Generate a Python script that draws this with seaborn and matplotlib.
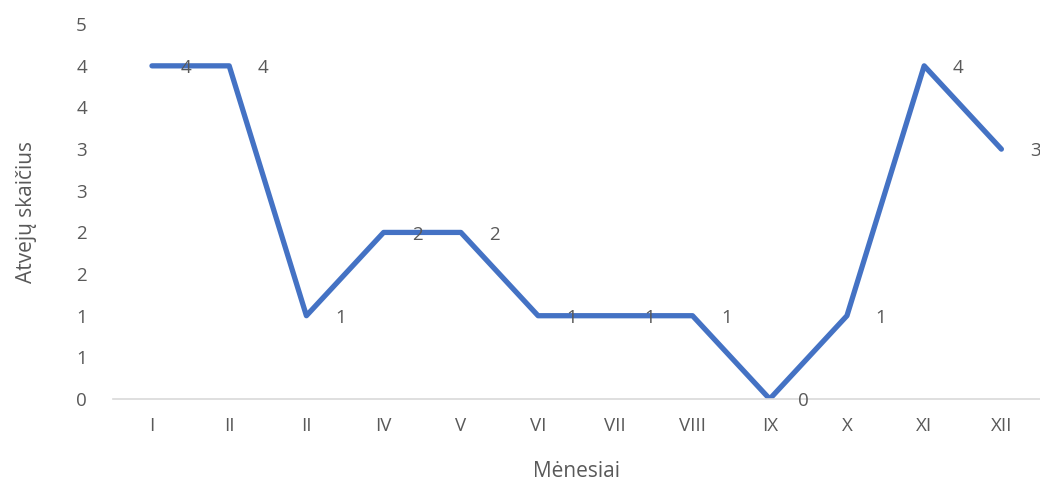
import numpy as np
import pandas as pd
import matplotlib.pyplot as plt
import seaborn as sns
from matplotlib.ticker import FuncFormatter

# duomenys
menesiai = ['I', 'II', 'II', 'IV', 'V', 'VI', 'VII', 'VIII', 'IX', 'X', 'XI', 'XII']
atvejai = [4, 4, 1, 2, 2, 1, 1, 1, 0, 1, 4, 3]

df = pd.DataFrame({'poz': np.arange(len(menesiai)), 'atvejai': atvejai})

sns.set_style("white")
plt.rcParams['font.family'] = ['Open Sans', 'DejaVu Sans']
pilka = '#595959'

fig = plt.figure(figsize=(10.4, 4.84), dpi=100)
ax = fig.add_axes([0.109, 0.1756, 0.891, 0.7744])

sns.lineplot(data=df, x='poz', y='atvejai', ax=ax, color='#4472C4', linewidth=3.8,
             solid_capstyle='round', solid_joinstyle='round')

# reiksmiu etiketes
for x, y in zip(df['poz'], df['atvejai']):
    ax.annotate(f'{y}', (x, y), xytext=(24.5, -1.5), textcoords='offset points',
                ha='center', va='center', fontsize=13.5, color=pilka, zorder=5)

ax.set_xlim(-0.5, len(menesiai) - 0.5)
ax.set_ylim(0, 4.5)
ax.set_yticks(np.arange(0, 4.51, 0.5))
ax.yaxis.set_major_formatter(FuncFormatter(lambda v, p: str(int(v + 0.5))))
ax.set_xticks(df['poz'])
ax.set_xticklabels(menesiai)
ax.tick_params(axis='both', length=0, labelsize=13.5, colors=pilka)
ax.tick_params(axis='y', pad=19)
ax.tick_params(axis='x', pad=13)

for s in ['top', 'right', 'left']:
    ax.spines[s].set_visible(False)
ax.spines['bottom'].set_color('#d9d9d9')
ax.spines['bottom'].set_linewidth(1.2)

ax.set_xlabel('Mėnesiai', fontsize=15, color=pilka, labelpad=19)
ax.set_ylabel('Atvejų skaičius', fontsize=15, color=pilka, labelpad=28)

plt.savefig('out.png', dpi=100)
